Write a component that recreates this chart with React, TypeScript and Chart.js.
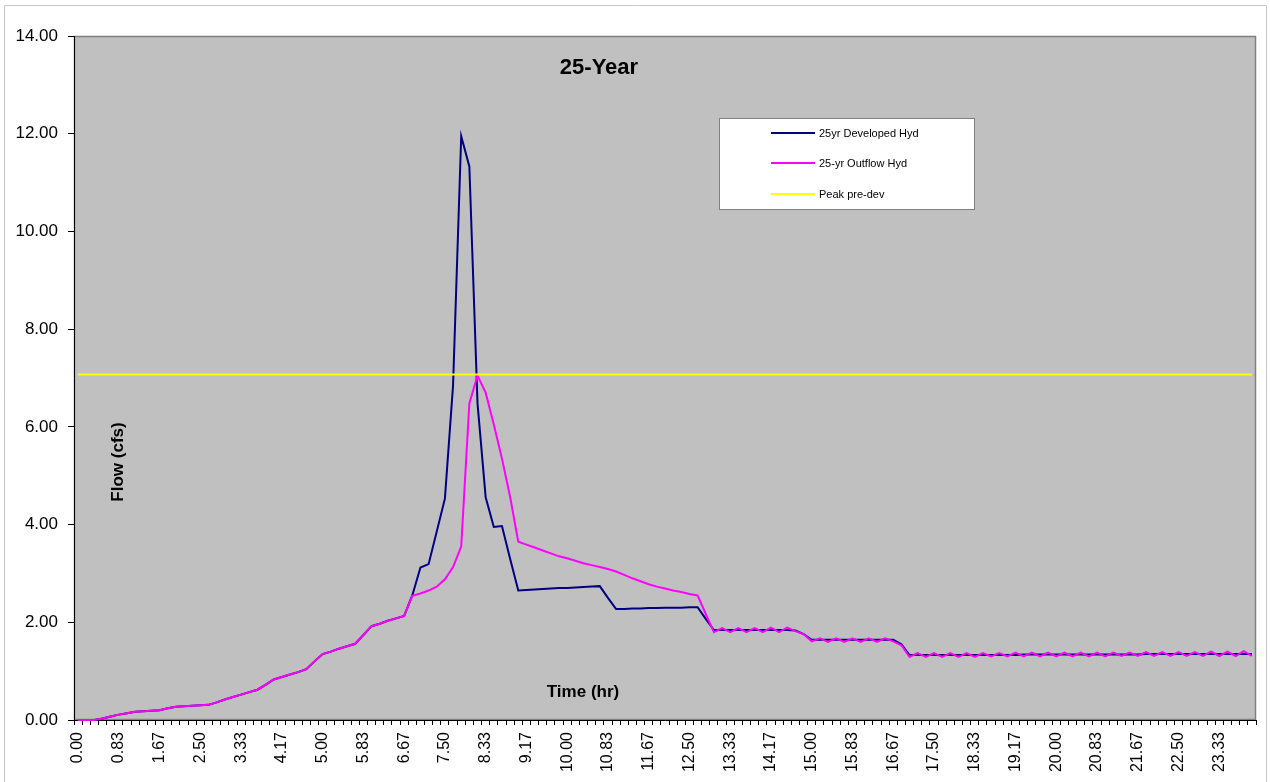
import React, { useEffect, useRef } from 'react';
import { Chart, registerables } from 'chart.js';

Chart.register(...registerables);

const FONT = "'Liberation Sans', Arial, Helvetica, sans-serif";

// Time axis: 10-minute steps from 0.00 to 24.00 hr
const STEPS_PER_HOUR = 6;
const STEP_COUNT = 145;
const timeLabels: string[] = Array.from({ length: STEP_COUNT }, (_, i) => (i / STEPS_PER_HOUR).toFixed(2));
const LABEL_EVERY = 5;

const chartTitle = '25-Year';
const yAxisTitle = 'Flow (cfs)';
const xAxisTitle = 'Time (hr)';

const developedLabel = '25yr Developed Hyd';
const outflowLabel = '25-yr Outflow Hyd';
const preDevLabel = 'Peak pre-dev';

const developedHyd: number[] = [
  0.00, 0.00, 0.00, 0.03, 0.07, 0.11, 0.14, 0.17, 0.18, 0.19,
  0.20, 0.24, 0.27, 0.28, 0.29, 0.30, 0.31, 0.36, 0.42, 0.47,
  0.52, 0.57, 0.62, 0.72, 0.83, 0.88, 0.93, 0.98, 1.04, 1.20,
  1.35, 1.40, 1.46, 1.51, 1.56, 1.74, 1.92, 1.97, 2.03, 2.08,
  2.13, 2.55, 3.12, 3.19, 3.86, 4.53, 6.85, 11.95, 11.33, 6.48,
  4.56, 3.95, 3.97, 3.30, 2.65, 2.66, 2.67, 2.68, 2.69, 2.70,
  2.70, 2.71, 2.72, 2.73, 2.74, 2.50, 2.27, 2.27, 2.28, 2.28,
  2.29, 2.29, 2.30, 2.30, 2.30, 2.31, 2.31, 2.07, 1.84, 1.84,
  1.84, 1.84, 1.84, 1.84, 1.84, 1.84, 1.84, 1.84, 1.83, 1.76,
  1.64, 1.64, 1.64, 1.64, 1.64, 1.64, 1.64, 1.64, 1.64, 1.64,
  1.64, 1.55, 1.33, 1.33, 1.33, 1.33, 1.33, 1.33, 1.33, 1.33,
  1.33, 1.33, 1.33, 1.33, 1.33, 1.33, 1.34, 1.34, 1.34, 1.34,
  1.34, 1.34, 1.34, 1.34, 1.34, 1.34, 1.34, 1.34, 1.34, 1.34,
  1.34, 1.35, 1.35, 1.35, 1.35, 1.35, 1.35, 1.35, 1.35, 1.35,
  1.35, 1.35, 1.35, 1.35, 1.35,
];

const outflowHyd: number[] = [
  0.00, 0.00, 0.00, 0.03, 0.07, 0.11, 0.14, 0.17, 0.18, 0.19,
  0.20, 0.24, 0.27, 0.28, 0.29, 0.30, 0.31, 0.36, 0.42, 0.47,
  0.52, 0.57, 0.62, 0.72, 0.83, 0.88, 0.93, 0.98, 1.04, 1.20,
  1.35, 1.40, 1.46, 1.51, 1.56, 1.74, 1.92, 1.97, 2.03, 2.08,
  2.13, 2.54, 2.59, 2.65, 2.73, 2.88, 3.13, 3.55, 6.48, 7.05,
  6.70, 6.05, 5.35, 4.57, 3.65, 3.59, 3.53, 3.47, 3.41, 3.35,
  3.31, 3.26, 3.21, 3.17, 3.13, 3.09, 3.04, 2.97, 2.90, 2.84,
  2.78, 2.73, 2.69, 2.65, 2.62, 2.58, 2.55, 2.17, 1.80, 1.88,
  1.80, 1.88, 1.80, 1.88, 1.80, 1.89, 1.80, 1.89, 1.82, 1.76,
  1.61, 1.67, 1.60, 1.67, 1.60, 1.67, 1.60, 1.67, 1.60, 1.67,
  1.61, 1.53, 1.29, 1.37, 1.29, 1.37, 1.29, 1.37, 1.29, 1.37,
  1.29, 1.37, 1.30, 1.37, 1.30, 1.38, 1.30, 1.38, 1.30, 1.38,
  1.30, 1.38, 1.30, 1.38, 1.30, 1.38, 1.30, 1.38, 1.31, 1.38,
  1.31, 1.39, 1.31, 1.39, 1.31, 1.39, 1.31, 1.39, 1.31, 1.40,
  1.31, 1.40, 1.31, 1.41, 1.31,
];

const peakPreDev = 7.07;
const preDevLine = [
  { x: '0.00', y: peakPreDev },
  { x: '24.00', y: peakPreDev },
];

const COLORS = {
  developed: '#000080',
  outflow: '#FF00FF',
  preDev: '#FFFF00',
  plotBg: '#C0C0C0',
  plotBorder: '#808080',
};

const decorPlugin = {
  id: 'decor',
  beforeDraw(chart: any) {
    const { ctx, chartArea: a, width, height } = chart;
    ctx.save();
    ctx.fillStyle = '#ffffff';
    ctx.fillRect(0, 0, width, height);
    // outer chart border
    ctx.strokeStyle = '#c6c6c6';
    ctx.lineWidth = 1;
    ctx.beginPath();
    ctx.moveTo(4.5, height + 2);
    ctx.lineTo(4.5, 5.5);
    ctx.lineTo(width - 3.5, 5.5);
    ctx.lineTo(width - 3.5, height + 2);
    ctx.stroke();
    // plot area
    ctx.fillStyle = COLORS.plotBg;
    ctx.fillRect(a.left, a.top, a.right - a.left, a.bottom - a.top);
    ctx.strokeStyle = COLORS.plotBorder;
    ctx.lineWidth = 1.5;
    ctx.strokeRect(a.left + 0.5, a.top + 0.5, a.right - a.left - 1, a.bottom - a.top - 1);
    ctx.restore();
  },
  afterDraw(chart: any) {
    const { ctx, chartArea: a } = chart;
    ctx.save();
    ctx.fillStyle = '#000';
    // chart title
    ctx.font = `bold 22px ${FONT}`;
    ctx.textAlign = 'center';
    ctx.textBaseline = 'middle';
    ctx.fillText(chartTitle, a.left + 525, a.top + 32);
    // axis titles
    ctx.font = `bold 17px ${FONT}`;
    ctx.fillText(xAxisTitle, a.left + 509, a.top + 656);
    ctx.save();
    ctx.translate(a.left + 44, a.top + 426);
    ctx.rotate(-Math.PI / 2);
    ctx.fillText(yAxisTitle, 0, 0);
    ctx.restore();
    // legend
    const lx = a.left + 645;
    const ly = a.top + 82;
    const lw = 255;
    const lh = 91;
    ctx.fillStyle = '#ffffff';
    ctx.fillRect(lx, ly, lw, lh);
    ctx.strokeStyle = '#808080';
    ctx.lineWidth = 1;
    ctx.strokeRect(lx + 0.5, ly + 0.5, lw, lh);
    const items = chart.data.datasets.map((d: any) => ({ label: d.label, color: d.borderColor }));
    const rowY = [15, 45, 76];
    ctx.font = `11px ${FONT}`;
    ctx.textAlign = 'left';
    ctx.textBaseline = 'middle';
    items.forEach((it: any, i: number) => {
      const y = ly + rowY[i];
      ctx.strokeStyle = it.color;
      ctx.lineWidth = 2;
      ctx.beginPath();
      ctx.moveTo(lx + 52, y);
      ctx.lineTo(lx + 96, y);
      ctx.stroke();
      ctx.fillStyle = '#000';
      ctx.fillText(it.label, lx + 100, y + 0.5);
    });
    ctx.restore();
  },
};

export default function App() {
  const canvasRef = useRef<HTMLCanvasElement>(null);

  useEffect(() => {
    const canvas = canvasRef.current;
    if (!canvas) return;
    const chart = new Chart(canvas, {
      type: 'line',
      data: {
        labels: timeLabels,
        datasets: [
          {
            label: developedLabel,
            data: developedHyd,
            borderColor: COLORS.developed,
            backgroundColor: COLORS.developed,
            borderWidth: 2,
            pointRadius: 0,
            tension: 0,
            order: 2,
            clip: 4,
          },
          {
            label: outflowLabel,
            data: outflowHyd,
            borderColor: COLORS.outflow,
            backgroundColor: COLORS.outflow,
            borderWidth: 2,
            pointRadius: 0,
            tension: 0,
            order: 1,
            clip: 4,
          },
          {
            label: preDevLabel,
            data: preDevLine as any,
            borderColor: COLORS.preDev,
            backgroundColor: COLORS.preDev,
            borderWidth: 2,
            pointRadius: 0,
            tension: 0,
            order: 0,
          },
        ],
      },
      options: {
        responsive: false,
        animation: false,
        layout: { padding: { top: 36, right: 14, left: 0, bottom: 0 } },
        plugins: {
          legend: { display: false },
          title: { display: false },
          tooltip: { enabled: false },
        },
        scales: {
          x: {
            type: 'category',
            offset: true,
            grid: {
              offset: true,
              drawOnChartArea: false,
              drawTicks: true,
              tickLength: 5,
              color: '#000',
              lineWidth: 1,
            },
            border: { display: true, color: '#000', width: 1 },
            ticks: {
              autoSkip: false,
              maxRotation: 90,
              minRotation: 90,
              padding: 7,
              color: '#000',
              font: { family: FONT, size: 16 },
              callback: (_v: any, i: number) => (i % LABEL_EVERY === 0 ? timeLabels[i] : ''),
            },
            afterFit: (s: any) => {
              s.height = 62;
              s.paddingLeft = 0;
              s.paddingRight = 0;
            },
          },
          y: {
            min: 0,
            max: 14,
            grid: {
              drawOnChartArea: false,
              drawTicks: true,
              tickLength: 6,
              color: '#000',
            },
            border: { display: true, color: '#000', width: 1 },
            ticks: {
              stepSize: 2,
              padding: 10,
              color: '#000',
              font: { family: FONT, size: 17 },
              callback: (v: any) => Number(v).toFixed(2),
            },
            afterFit: (s: any) => {
              s.width = 74;
              s.paddingTop = 0;
              s.paddingBottom = 0;
            },
          },
        },
      },
      plugins: [decorPlugin],
    });
    return () => chart.destroy();
  }, []);

  return (
    <div style={{ position: 'absolute', left: 0, top: 0, width: 1270, height: 782 }}>
      <canvas ref={canvasRef} width={1270} height={782} style={{ display: 'block' }} />
    </div>
  );
}
